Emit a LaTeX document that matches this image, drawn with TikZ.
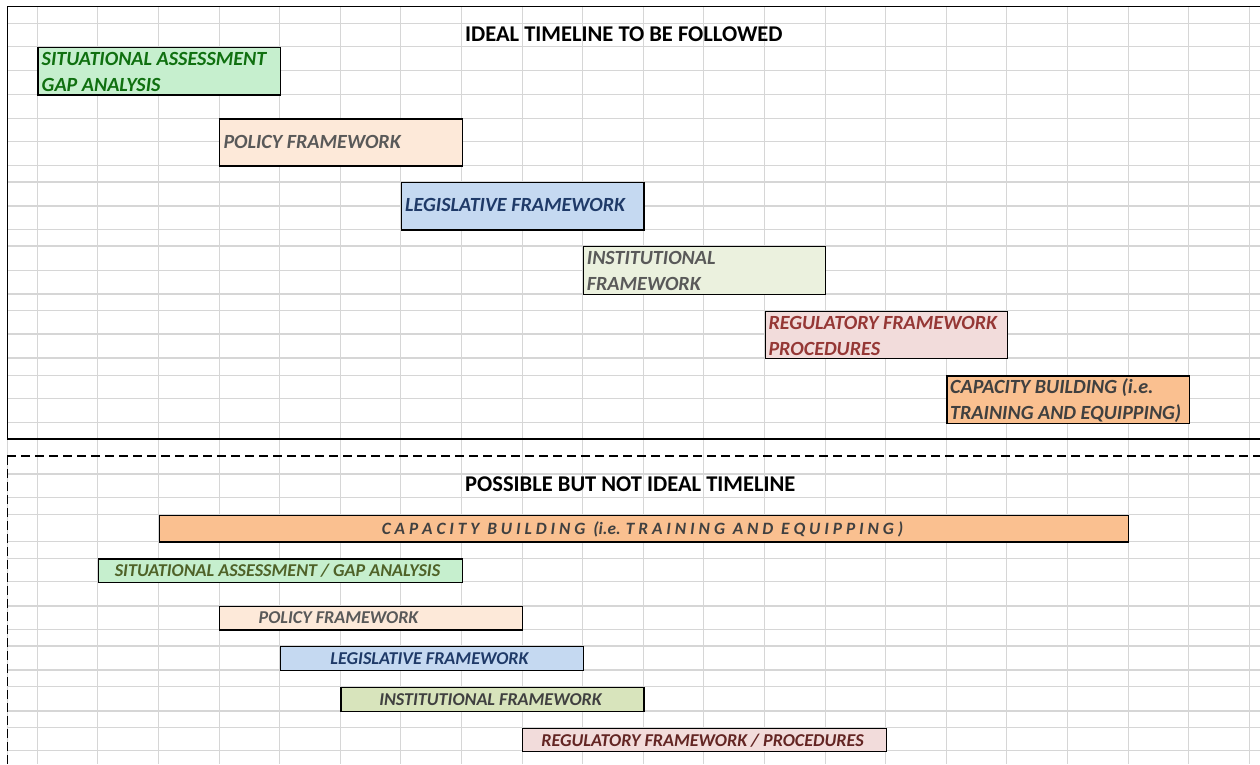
\documentclass[tikz,border=0pt]{standalone}
\usepackage{fontspec}
\setmainfont{Carlito}
\definecolor{gridgray}{HTML}{D6D6D6}
\definecolor{gfill}{HTML}{C6EFCE}
\definecolor{gtext}{HTML}{107010}
\definecolor{gtextb}{HTML}{4F6228}
\definecolor{pfill}{HTML}{FDE9D9}
\definecolor{graytext}{HTML}{595959}
\definecolor{bfill}{HTML}{C5D9F1}
\definecolor{btext}{HTML}{1F3A68}
\definecolor{ifill}{HTML}{EBF1DE}
\definecolor{ifillb}{HTML}{D8E4BC}
\definecolor{rfill}{HTML}{F2DCDB}
\definecolor{rtext}{HTML}{953735}
\definecolor{rtextb}{HTML}{632523}
\definecolor{cfill}{HTML}{FAC090}
\definecolor{dtext}{HTML}{404040}
\newcommand{\fl}{\rule{0pt}{16pt}}
\tikzset{
  gridline/.style={draw=gridgray, line width=1.1pt},
  bar/.style={draw=black, line width=1.3pt, inner sep=0pt, anchor=north west, rectangle},
  toplbl/.style={font=\bfseries\itshape\fontsize{20.1}{26}\selectfont, inner sep=0pt, anchor=north west, align=left},
  botlbl/.style={font=\bfseries\itshape\fontsize{18.1}{20}\selectfont, inner sep=0pt, anchor=base},
  title/.style={font=\bfseries\fontsize{22.5}{24}\selectfont, inner sep=0pt, anchor=base west, text=black},
}
\begin{document}
\begin{tikzpicture}[x=1pt,y=-1pt]
\useasboundingbox (0,0) rectangle (1260,764);
\fill[white] (0,0) rectangle (1260,764);
% grid
\foreach \k in {0,...,20} \draw[gridline] ({37.3+60.6*\k},6) -- ({37.3+60.6*\k},764);
\draw[gridline] (7.3,6) -- (7.3,764);
\foreach \yy in {23.3,46.7,70.7,94.3,118.3,141.7,165.3,182,206,229.3,246,270.7,294,310.7,334,358,375.3,398.3,422.7,474,497.3,514.7,541.3,558.3,581.7,606,629.3,646,670,686.7,711,727.7,750.7}
  \draw[gridline] (7,\yy) -- (1260,\yy);
% titles
\node[title] (t1) at (465,41.5) {IDEAL TIMELINE TO BE FOLLOWED};
\node[title] (t2) at (465,491) {POSSIBLE BUT NOT IDEAL TIMELINE};
% ideal timeline bars
\node[bar, fill=gfill, minimum width=242.4pt, minimum height=47.6pt] (a1) at (37.3,46.7) {};
\node[bar, fill=pfill, minimum width=242.4pt, minimum height=47pt] (a2) at (219.1,118.3) {};
\node[bar, fill=bfill, minimum width=242.4pt, minimum height=47.3pt] (a3) at (400.9,182) {};
\node[bar, fill=ifill, minimum width=242.4pt, minimum height=48pt] (a4) at (582.7,246) {};
\node[bar, fill=rfill, minimum width=242.4pt, minimum height=47.3pt] (a5) at (764.5,310.7) {};
\node[bar, fill=cfill, minimum width=242.4pt, minimum height=47.4pt] (a6) at (946.3,375.3) {};
\node[toplbl, text=gtext] (la1) at (41.5,49) {\fl SITUATIONAL ASSESSMENT\\GAP ANALYSIS};
\node[toplbl, text=graytext] (la2) at (223.3,132.3) {\fl POLICY FRAMEWORK};
\node[toplbl, text=btext] (la3) at (405,195.7) {\fl LEGISLATIVE FRAMEWORK};
\node[toplbl, text=graytext] (la4) at (586.7,248.3) {\fl INSTITUTIONAL\\FRAMEWORK};
\node[toplbl, text=rtext] (la5) at (768.3,313.3) {\fl REGULATORY FRAMEWORK\\PROCEDURES};
\node[toplbl, text=dtext] (la6) at (950,377.3) {\fl CAPACITY BUILDING (i.e.\\TRAINING AND EQUIPPING)};
% possible timeline bars
\node[bar, fill=cfill, minimum width=969.6pt, minimum height=26.6pt] (b1) at (158.5,514.7) {};
\node[bar, fill=gfill, minimum width=363.6pt, minimum height=23.4pt] (b2) at (97.9,558.3) {};
\node[bar, fill=pfill, minimum width=303pt, minimum height=23.3pt] (b3) at (219.1,606) {};
\node[bar, fill=bfill, minimum width=303pt, minimum height=24pt] (b4) at (279.7,646) {};
\node[bar, fill=ifillb, minimum width=303pt, minimum height=24.3pt] (b5) at (340.3,686.7) {};
\node[bar, fill=rfill, minimum width=363.6pt, minimum height=23pt] (b6) at (522.1,727.7) {};
\node[botlbl, text=dtext, font=\bfseries\itshape\fontsize{17.3}{18}\selectfont] (lb1) at (642.5,534.5) {C A P A C I T Y\ \ B U I L D I N G\ \ (i.e. T R A I N I N G\ \ A N D\ \ E Q U I P P I N G )};
\node[botlbl, text=gtextb] (lb2) at (277.5,576.5) {SITUATIONAL ASSESSMENT / GAP ANALYSIS};
\node[botlbl, text=graytext] (lb3) at (338.5,623.3) {POLICY FRAMEWORK};
\node[botlbl, text=btext] (lb4) at (429.5,664) {LEGISLATIVE FRAMEWORK};
\node[botlbl, text=dtext] (lb5) at (490.5,705) {INSTITUTIONAL FRAMEWORK};
\node[botlbl, text=rtextb] (lb6) at (702.5,746) {REGULATORY FRAMEWORK / PROCEDURES};
% borders
\draw[line width=1pt] (1260,6) -- (7.3,6) -- (7.3,439);
\draw[line width=2pt] (7,439) -- (1260,439);
\draw[line width=2pt, dash pattern=on 9pt off 5pt] (7,456) -- (1260,456);
\draw[line width=1.2pt, dash pattern=on 9pt off 4pt] (7.3,456) -- (7.3,764);
\end{tikzpicture}
\end{document}
